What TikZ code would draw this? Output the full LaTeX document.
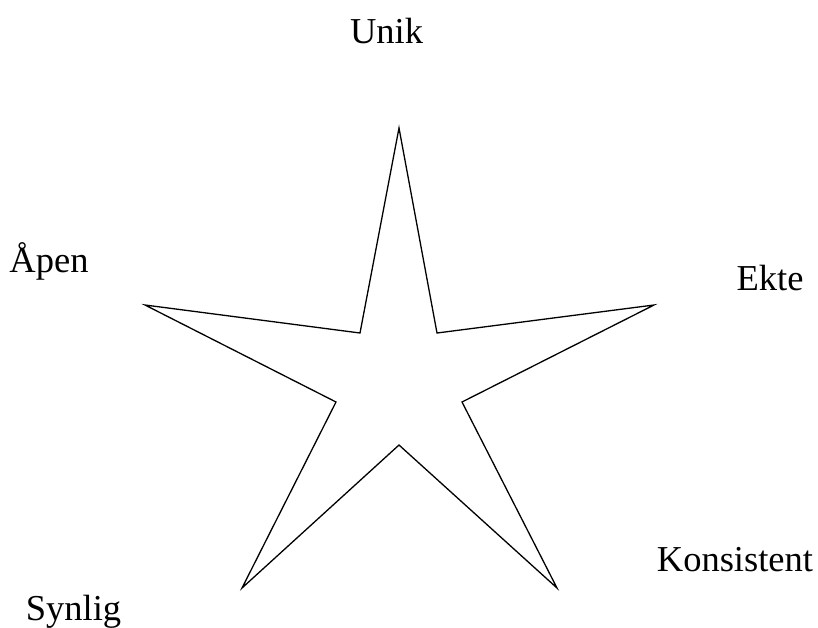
\documentclass[tikz,border=0pt]{standalone}
\usepackage{fontspec}
\setmainfont{Liberation Serif}
\begin{document}
\begin{tikzpicture}[x=1pt,y=-1pt,line join=miter,line width=1.3pt,font=\fontsize{36.5}{40}\selectfont]
			\tikzset{lbl/.style={inner sep=0pt,anchor=base}}
			\useasboundingbox (0,0) rectangle (818,627);
			\draw (399,128)--(437,333)--(654,305)--(462,402)--(557,588)--(399,445)
			--(242,588)--(336,402)--(145,305)--(360,333)--cycle;
			\node[lbl] (unik) at (386.5,43) {Unik};
			\node[lbl] (apen) at (49,272) {Åpen};
			\node[lbl] (ekte) at (770,290) {Ekte};
			\node[lbl] (kons) at (735,571) {Konsistent};
			\node[lbl] (synl) at (73.5,620) {Synlig};
		\end{tikzpicture}
\end{document}
